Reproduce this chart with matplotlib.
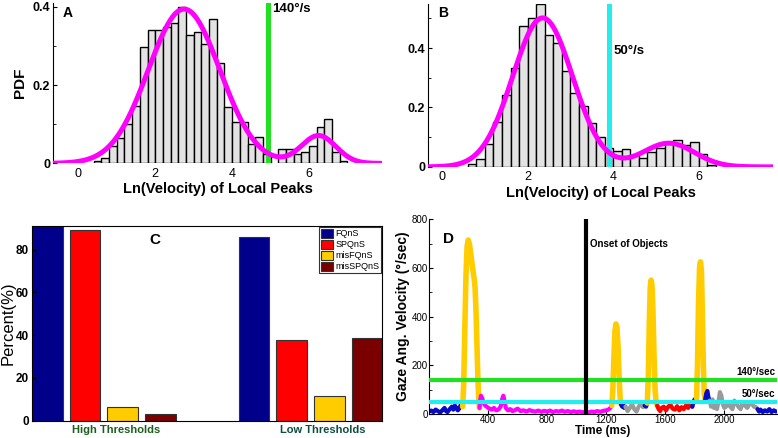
import numpy as np
import matplotlib
matplotlib.use("Agg")
import matplotlib.pyplot as plt

plt.rcParams['font.family'] = ['Liberation Sans', 'DejaVu Sans']

# ---- panel A / B histograms (bin left edges, pdf height) ----
bin_w = 0.2
a_edges = [0.4, 0.6, 0.8, 1.0, 1.2, 1.4, 1.6, 1.8, 2.0, 2.2, 2.4, 2.6, 2.8, 3.0, 3.2, 3.4,
           3.6, 3.8, 4.0, 4.2, 4.4, 4.6, 4.8, 5.2, 5.4, 5.6, 5.8, 6.0, 6.2, 6.4, 6.6, 6.8]
a_heights = [0.005, 0.015, 0.045, 0.064, 0.10, 0.148, 0.298, 0.34, 0.34, 0.35, 0.36, 0.40,
             0.328, 0.337, 0.306, 0.368, 0.257, 0.143, 0.105, 0.105, 0.05, 0.068, 0.025,
             0.037, 0.037, 0.024, 0.03, 0.045, 0.094, 0.113, 0.03, 0.007]
# fitted two-component gaussian mixture: weight, mean, sigma
a_fit_w = [0.92, 0.08]
a_fit_mu = [2.75, 6.25]
a_fit_sd = [0.93, 0.45]
a_thresh = np.log(140)

b_edges = [0.6, 0.8, 1.0, 1.2, 1.4, 1.6, 1.8, 2.0, 2.2, 2.4, 2.6, 2.8, 3.0, 3.2, 3.4, 3.6,
           3.8, 4.0, 4.2, 4.4, 4.6, 4.8, 5.0, 5.2, 5.4, 5.6, 5.8, 6.0, 6.2]
b_heights = [0.011, 0.028, 0.076, 0.151, 0.241, 0.333, 0.473, 0.501, 0.549, 0.445, 0.417,
             0.323, 0.249, 0.204, 0.149, 0.101, 0.065, 0.055, 0.06, 0.04, 0.03, 0.05,
             0.065, 0.08, 0.09, 0.075, 0.085, 0.045, 0.005]
b_fit_w = [0.88, 0.12]
b_fit_mu = [2.35, 5.3]
b_fit_sd = [0.70, 0.60]
b_thresh = np.log(50)

# ---- panel C ----
groups = ['High Thresholds', 'Low Thresholds']
series = ['FQnS', 'SPQnS', 'misFQnS', 'misSPQnS']
percent = {
    'FQnS': [91, 85.9],
    'SPQnS': [89.0, 37.8],
    'misFQnS': [6.4, 11.4],
    'misSPQnS': [3.0, 38.6],
}
bar_colors = ['#00008B', '#FF0000', '#FFCC00', '#7A0000']

# ---- panel D: velocity trace segments (time ms, deg/s) ----
seg_blue1 = [(0, 10), (15, 14), (30, 8), (45, 18), (60, 12), (75, 6), (90, 15), (105, 25),
             (115, 12), (125, 8), (140, 20), (155, 30), (165, 18), (175, 35), (185, 25),
             (195, 15), (205, 22), (215, 38), (228, 30)]
seg_yel1 = [(228, 30), (235, 120), (242, 330), (250, 560), (258, 690), (266, 715), (275, 695),
            (285, 650), (295, 600), (305, 560), (312, 520), (318, 430), (324, 300),
            (330, 170), (336, 70), (342, 25)]
seg_mag = [(342, 25), (347, 60), (352, 75), (360, 65), (370, 45), (380, 35), (395, 28),
           (410, 22), (425, 18), (440, 25), (455, 15), (470, 18), (485, 30), (495, 60),
           (503, 75), (511, 55), (520, 25), (535, 15), (550, 20), (565, 12), (580, 15),
           (600, 22), (620, 12), (640, 15), (660, 10), (680, 16), (700, 12), (720, 10),
           (740, 14), (760, 9), (780, 13), (800, 10), (820, 14), (840, 8), (860, 12),
           (880, 10), (900, 14), (920, 9), (940, 12), (960, 8), (980, 11), (1000, 8),
           (1020, 10), (1040, 7), (1060, 9), (1080, 6), (1100, 10), (1120, 8), (1140, 12),
           (1160, 9), (1180, 13), (1200, 15), (1215, 18), (1228, 25), (1238, 35)]
seg_yel2 = [(1238, 35), (1245, 100), (1252, 230), (1259, 340), (1266, 370), (1273, 355),
            (1280, 280), (1287, 160), (1294, 70), (1300, 40)]
seg_blue2 = [(1300, 40), (1308, 30), (1315, 35), (1322, 25), (1330, 30)]
seg_gray1 = [(1330, 30), (1345, 12), (1360, 25), (1375, 40), (1390, 20), (1405, 10),
             (1420, 30), (1435, 42), (1450, 28), (1460, 35)]
seg_blue3 = [(1460, 35), (1470, 30), (1478, 45)]
seg_yel3 = [(1478, 45), (1485, 150), (1492, 380), (1498, 520), (1504, 550), (1510, 530),
            (1517, 420), (1524, 240), (1531, 100), (1538, 50), (1545, 35)]
seg_red = [(1545, 35), (1555, 20), (1565, 12), (1575, 25), (1590, 30), (1605, 15),
           (1620, 30), (1635, 38), (1650, 22), (1665, 18), (1680, 32), (1695, 15),
           (1710, 28), (1725, 20), (1740, 35), (1755, 25), (1770, 40), (1783, 30)]
seg_blue4 = [(1783, 30), (1790, 45), (1798, 60), (1805, 55), (1812, 65)]
seg_yel4 = [(1812, 65), (1818, 200), (1825, 450), (1832, 600), (1838, 625), (1845, 590),
            (1851, 420), (1858, 200), (1864, 80), (1870, 60)]
seg_blue5 = [(1870, 60), (1878, 85), (1885, 95), (1892, 70), (1900, 55)]
seg_gray2 = [(1900, 55), (1910, 30), (1920, 60), (1930, 25), (1940, 35), (1950, 20),
             (1960, 50), (1970, 90), (1980, 75), (1990, 40), (2000, 25), (2012, 30),
             (2025, 50), (2040, 30), (2055, 20), (2068, 55), (2080, 45), (2095, 30),
             (2110, 20), (2125, 45), (2140, 35), (2155, 25), (2170, 40), (2185, 45),
             (2200, 30), (2215, 28), (2225, 20)]
seg_blue6 = [(2225, 20), (2235, 10), (2245, 18), (2260, 8), (2275, 15), (2290, 10),
             (2305, 20), (2320, 8), (2335, 15), (2350, 10)]
onset_time = 1064
high_thr = 140
low_thr = 50

BLUE = '#0a0ac8'
YEL = '#FFCC00'
MAG = '#FF00FF'
GRAY = '#9a9a9a'
RED = '#FF0000'
trace = [(seg_blue1, BLUE), (seg_yel1, YEL), (seg_mag, MAG), (seg_yel2, YEL),
         (seg_blue2, BLUE), (seg_gray1, GRAY), (seg_blue3, BLUE), (seg_yel3, YEL),
         (seg_red, RED), (seg_blue4, BLUE), (seg_yel4, YEL), (seg_blue5, BLUE),
         (seg_gray2, GRAY), (seg_blue6, BLUE)]


def mixture(x, w, mu, sd):
    y = np.zeros_like(x)
    for wi, mi, si in zip(w, mu, sd):
        y += wi * np.exp(-0.5 * ((x - mi) / si) ** 2) / (si * np.sqrt(2 * np.pi))
    return y


def hist_panel(ax, edges, heights, w, mu, sd, thresh, tcolor, ttext, tpos, letter, xlim, ylim, yticks):
    ax.bar(edges, heights, width=bin_w, align='edge', color='#e3e3e3',
           edgecolor='black', linewidth=1.0, zorder=1)
    xs = np.linspace(xlim[0], xlim[1], 400)
    ax.plot(xs, mixture(xs, w, mu, sd), color=MAG, lw=3.6, zorder=3, solid_capstyle='butt')
    ax.axvline(thresh, color=tcolor, lw=3.6, zorder=2)
    ax.text(tpos[0], tpos[1], ttext, fontsize=9.5, fontweight='bold', ha='left', va='center')
    ax.text(0.03, 0.94, letter, transform=ax.transAxes, fontsize=10, fontweight='bold',
            ha='left', va='center')
    ax.set_xlim(*xlim)
    ax.set_ylim(*ylim)
    ax.set_xticks([0, 2, 4, 6])
    ax.set_yticks(yticks)
    ax.set_yticklabels(['0' if v == 0 else f'{v:.1f}' for v in yticks],
                       fontweight='bold', fontsize=9)
    ax.set_yticks(np.arange(0.1, ylim[1], 0.2), minor=True)
    ax.tick_params(axis='y', direction='in', length=3, pad=2)
    ax.tick_params(axis='y', which='minor', direction='in', length=2)
    ax.tick_params(axis='x', length=0, labelsize=9, pad=3)
    ax.spines['top'].set_visible(False)
    ax.spines['right'].set_visible(False)
    ax.spines['bottom'].set_visible(False)
    ax.set_xlabel('Ln(Velocity) of Local Peaks', fontsize=10.5, fontweight='bold', labelpad=2)


fig = plt.figure(figsize=(7.78, 4.38), dpi=100)

axA = fig.add_axes([0.0681, 0.627, 0.423, 0.366])
hist_panel(axA, a_edges, a_heights, a_fit_w, a_fit_mu, a_fit_sd, a_thresh, '#22e022',
           '140°/s', (a_thresh + 0.1, 0.395), 'A', (-0.66, 7.9), (0, 0.41), [0, 0.2, 0.4])
axA.set_ylabel('PDF', fontsize=11, fontweight='bold', labelpad=4)

axB = fig.add_axes([0.550, 0.619, 0.444, 0.373])
hist_panel(axB, b_edges, b_heights, b_fit_w, b_fit_mu, b_fit_sd, b_thresh, '#22eeee',
           '50°/s', (b_thresh + 0.1, 0.39), 'B', (-0.33, 7.74), (0, 0.55), [0, 0.2, 0.4])

# ---- panel C ----
axC = fig.add_axes([0.041, 0.0395, 0.450, 0.4445])
gx = np.array([1.0, 2.0])
step = 0.1826
for i, (name, col) in enumerate(zip(series, bar_colors)):
    axC.bar(gx + (i - 1.5) * step, percent[name], width=0.149, color=col,
            edgecolor='#333333', linewidth=0.8, label=name)
axC.set_xlim(0.652, 2.345)
axC.set_ylim(0, 91)
axC.set_yticks([0, 20, 40, 60, 80])
axC.set_yticklabels(['0', '20', '40', '60', '80'], fontweight='bold', fontsize=8.5)
axC.tick_params(axis='y', direction='in', length=3, pad=2)
axC.set_xticks(gx + 0.06)
axC.set_xticklabels(groups, fontweight='bold', fontsize=8)
axC.get_xticklabels()[0].set_color('#1d5e1d')
axC.get_xticklabels()[1].set_color('#0e4f40')
axC.tick_params(axis='x', length=0, pad=3)
axC.set_ylabel('Percent(%)', fontsize=12)
axC.yaxis.set_label_coords(-0.046, 0.5)
axC.text(0.35, 0.93, 'C', transform=axC.transAxes, fontsize=11, fontweight='bold',
         ha='center', va='center')
leg = axC.legend(loc='upper right', fontsize=6.5, handlelength=1.4, handleheight=1.2,
                 handletextpad=0.2, borderpad=0.2, labelspacing=0.15, fancybox=False,
                 borderaxespad=0.1, edgecolor='black')
leg.get_frame().set_linewidth(0.8)

# ---- panel D ----
axD = fig.add_axes([0.5514, 0.0548, 0.447, 0.4445])
for seg, col in trace:
    t = [p[0] for p in seg]
    v = [p[1] for p in seg]
    lw = 4.0 if col == YEL else 3.0
    axD.plot(t, v, color=col, lw=lw, solid_joinstyle='round', solid_capstyle='round', zorder=2)
axD.axhline(high_thr, color='#22e022', lw=3.0, zorder=3)
axD.axhline(low_thr, color='#22eeee', lw=3.0, zorder=3)
axD.axvline(onset_time, color='black', lw=3.0, zorder=4)
axD.text(onset_time + 25, 700, 'Onset of Objects', fontsize=7, fontweight='bold', va='center')
axD.text(2345, 172, '140°/sec', fontsize=7, fontweight='bold', ha='right', va='center')
axD.text(2345, 82, '50°/sec', fontsize=7, fontweight='bold', ha='right', va='center')
axD.text(0.04, 0.9, 'D', transform=axD.transAxes, fontsize=11, fontweight='bold',
         ha='left', va='center')
axD.set_xlim(0, 2355)
axD.set_ylim(0, 800)
axD.set_xticks([400, 800, 1200, 1600, 2000])
axD.set_yticks([0, 200, 400, 600, 800])
axD.set_yticks([100, 300, 500, 700], minor=True)
axD.tick_params(labelsize=7, direction='in', length=3, pad=1)
axD.tick_params(axis='y', which='minor', direction='in', length=2)
axD.spines['top'].set_visible(False)
axD.spines['right'].set_visible(False)
axD.set_xlabel('Time (ms)', fontsize=8.5, fontweight='bold', labelpad=0)
axD.set_ylabel('Gaze Ang. Velocity (°/sec)', fontsize=10, fontweight='bold', labelpad=1)

fig.savefig('out.png', dpi=100)
